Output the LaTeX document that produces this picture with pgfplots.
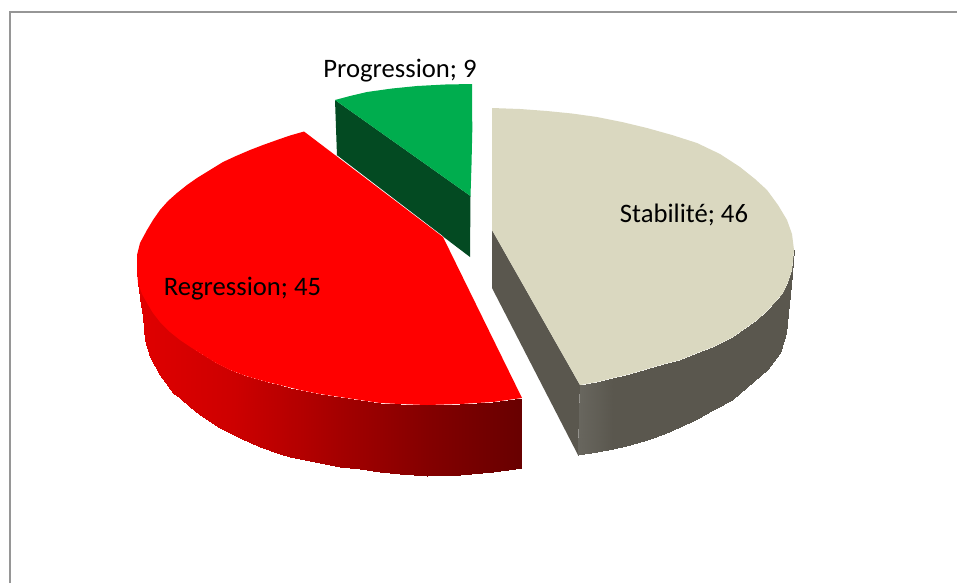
\documentclass[border=0pt]{standalone}
\usepackage{fontspec}
\setmainfont{Carlito}
\usepackage{pgfplots}
\pgfplotsset{compat=1.18}
\definecolor{stabtop}{RGB}{218,216,192}
\definecolor{stabside}{RGB}{90,87,78}
\definecolor{progtop}{RGB}{0,173,78}
\definecolor{progside}{RGB}{3,74,34}
\definecolor{frameline}{RGB}{150,150,150}
\begin{document}
\begin{tikzpicture}
\begin{axis}[
  scale only axis, width=717.75pt, height=437.25pt,
  xmin=0, xmax=957, ymin=0, ymax=583, y dir=reverse,
  hide axis, clip=true,
  point meta min=0, point meta max=1,
  colormap={redside}{rgb255=(224,0,0) rgb255=(205,0,0) rgb255=(168,0,0) rgb255=(132,0,0) rgb255=(104,0,0)},
  colormap={greyside}{rgb255=(104,102,94) rgb255=(90,87,78) rgb255=(90,87,78) rgb255=(90,87,78) rgb255=(90,87,78) rgb255=(90,87,78)},
]
% full chart area
\path (axis cs:0,0) rectangle (axis cs:957,583);
% chart frame
\addplot[frameline, line width=1.5pt] coordinates {(10,583) (10,12) (957,12)};

% Progression: inner face and top
\addplot[fill=progside, draw=none] coordinates {(335,100) (470.5,196) (470,257) (337,156)} --cycle;
\addplot[fill=progtop, draw=none] coordinates {(335,100) (350,96) (367,92) (392,88.5) (417,86) (445,84.5) (472,84) (472.3,130) (471.5,165) (470.5,196)} --cycle;

% Stabilite: inner face, rim, top
\addplot[fill=stabside, draw=none] coordinates {(492,230) (580,385) (578,455) (492,288)} --cycle;
\addplot[surf, shader=interp, colormap name=greyside, mesh/rows=2, mesh/check=false, point meta=explicit]
  table[x=x, y=y, meta=c] {
x y c
580 385 0
597 382 0.1
613 378 0.2
630 374 0.3
647 369 0.4
664 364 0.5
680 360 0.6
697 353 0.65
713 347 0.7
733 337 0.75
757 320 0.85
767 311 0.9
777 300 0.93
783 293 0.95
788 282 0.97
792 270 0.98
794 250 1
578 455 0
597 452 0.1
613 448.5 0.2
630 444.5 0.3
647 440 0.4
664 434 0.5
680 427 0.6
697 419 0.65
713 410 0.7
732 400 0.75
747 387 0.85
767 370 0.9
780 353 0.93
786 333 0.95
788 313 0.97
791 285 0.98
794 250 1
};
\addplot[fill=stabtop, draw=none] coordinates {(492,108) (520,109) (547,111) (572,113.5) (597,117) (622,122) (647,128) (672,135) (697,143) (720,154) (740,167) (755,179) (767,190) (778,205) (787,220) (792,234) (794,250) (792,270) (788,282) (783,293) (777,300) (767,311) (757,320) (733,337) (713,347) (697,353) (680,360) (664,364) (647,369) (630,374) (613,378) (597,382) (580,385) (492,230)} --cycle;

% Regression: rim and top
\addplot[surf, shader=interp, colormap name=redside, mesh/rows=2, mesh/check=false, point meta=explicit]
  table[x=x, y=y, meta=c] {
x y c
137 270 0
138 283 0.003
142 294 0.013
147 303 0.026
153 313 0.04
160 322 0.06
170 332 0.086
180 340 0.11
192 348 0.14
203 355 0.17
216 363 0.2
230 370 0.24
246 376 0.28
267 382 0.34
280 385 0.37
290 388 0.4
300 390 0.42
320 394 0.475
340 397 0.53
360 400 0.58
380 403 0.63
400 404 0.68
427 405 0.75
460 404 0.84
493 402 0.925
522 398 1
137 270 0
139 290 0.005
141 305 0.01
143 317 0.016
145 340 0.02
150 357 0.034
160 375 0.06
173 393 0.094
180 398 0.11
190 407 0.14
200 415 0.16
220 428 0.215
240 438 0.27
260 447 0.32
280 454 0.37
290 457 0.4
300 459 0.42
320 463 0.475
340 467 0.53
360 469 0.58
380 472 0.63
400 474 0.68
427 476 0.75
460 475 0.84
493 472 0.925
522 468 1
};
\addplot[white, line width=0.8pt] coordinates {(337,156) (443,237)};
\addplot[fill=red, draw=none] coordinates {(304,131.5) (443,237) (522,398) (493,402) (460,404) (427,405) (400,404) (380,403) (360,400) (340,397) (320,394) (300,390) (280,385) (267,382) (246,376) (230,370) (216,363) (203,355) (192,348) (180,340) (170,332) (160,322) (153,313) (147,303) (142,294) (138,283) (137,270) (137,255) (140,243) (147,230) (153,220) (160,210) (168,201) (177,193) (187,185) (197,178) (210,170) (223,162) (236,156) (250,150) (263,145) (277,140) (290,135.5)} --cycle;

% value labels
\node[font=\fontsize{20}{22}\selectfont, anchor=center] at (axis cs:400,71) {Progression; 9};
\node[font=\fontsize{20}{22}\selectfont, anchor=center] at (axis cs:684,214.5) {Stabilité; 46};
\node[font=\fontsize{20}{22}\selectfont, anchor=center] at (axis cs:242.5,289) {Regression; 45};
\end{axis}
\end{tikzpicture}
\end{document}
